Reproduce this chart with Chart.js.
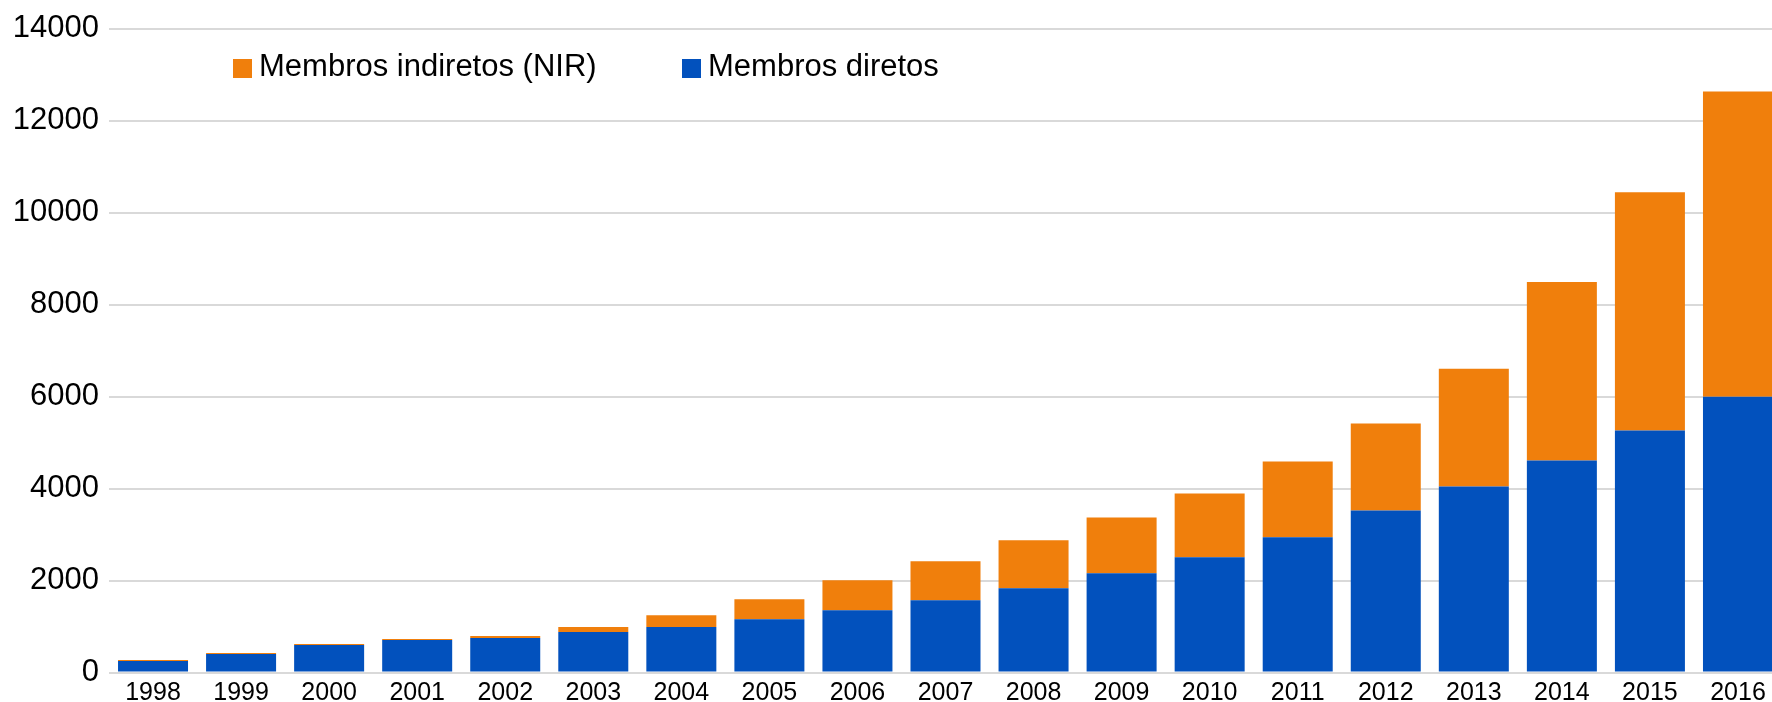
<!DOCTYPE html>
<html>
<head>
<meta charset="utf-8">
<script src="https://cdn.jsdelivr.net/npm/chart.js@4"></script>
<style>
  body { margin: 0; overflow: hidden; background: #fff; font-family: "Liberation Sans", Arial, sans-serif; }
  #wrap { position: relative; width: 1782px; height: 702px; }
  .lg-box { position: absolute; width: 19px; height: 19px; }
  .lg-text { position: absolute; font-size: 31px; line-height: 31px; color: #000; white-space: nowrap; }
</style>
</head>
<body>
<div id="wrap">
  <canvas id="chart" width="1782" height="702"></canvas>
  <div id="legend"></div>
</div>
<script>
// Categories and values
const years = ['1998','1999','2000','2001','2002','2003','2004','2005','2006','2007',
               '2008','2009','2010','2011','2012','2013','2014','2015','2016'];
const diretos = [249, 401, 596, 705, 748, 878, 987, 1160, 1355, 1572,
                 1832, 2157, 2505, 2939, 3524, 4044, 4609, 5259, 5997];
const indiretos = [22, 22, 22, 22, 44, 109, 260, 434, 651, 846,
                   1041, 1215, 1388, 1648, 1888, 2560, 3882, 5184, 6636];
const yTicks = [0, 2000, 4000, 6000, 8000, 10000, 12000, 14000];

const blue = '#0251BD';
const orange = '#F07F0C';
const fontFamily = '"Liberation Sans", Arial, sans-serif';

const context = document.getElementById('chart').getContext('2d');

const chart = new Chart(context, {
    type: 'bar',
    data: {
        labels: years,
        datasets: [
            {
                label: 'Membros diretos',
                data: diretos,
                backgroundColor: blue,
                borderWidth: 0,
                categoryPercentage: 1,
                barPercentage: 0.795
            },
            {
                label: 'Membros indiretos (NIR)',
                data: indiretos,
                backgroundColor: orange,
                borderWidth: 0,
                categoryPercentage: 1,
                barPercentage: 0.795
            }
        ]
    },
    options: {
        responsive: false,
        animation: false,
        layout: { padding: { top: 27, right: 0, bottom: 0, left: 0 } },
        plugins: {
            legend: { display: false },
            tooltip: { enabled: false }
        },
        scales: {
            x: {
                stacked: true,
                grid: { display: false },
                border: { display: false },
                ticks: {
                    color: '#000',
                    font: { family: fontFamily, size: 25 },
                    padding: -2,
                    maxRotation: 0,
                    autoSkip: false
                },
                afterFit: (scale) => { scale.height = 29.5; }
            },
            y: {
                stacked: true,
                min: 0,
                max: 14000,
                afterBuildTicks: (scale) => { scale.ticks = yTicks.map(v => ({ value: v })); },
                grid: { color: '#d9d9d9', lineWidth: 2, drawTicks: false },
                border: { display: false },
                ticks: {
                    color: '#000',
                    font: { family: fontFamily, size: 31 },
                    padding: 10,
                    callback: (value) => String(value)
                },
                afterFit: (scale) => { scale.width = 109; }
            }
        }
    }
});

// Legend as HTML text, placed inside the plot like the original
const legendItems = [
    { text: 'Membros indiretos (NIR)', color: orange, x: 233 },
    { text: 'Membros diretos', color: blue, x: 682 }
];
const legend = document.getElementById('legend');
legendItems.forEach(item => {
    const box = document.createElement('div');
    box.className = 'lg-box';
    box.style.left = item.x + 'px';
    box.style.top = '59px';
    box.style.background = item.color;
    legend.appendChild(box);
    const label = document.createElement('div');
    label.className = 'lg-text';
    label.style.left = (item.x + 26) + 'px';
    label.style.top = '50px';
    label.textContent = item.text;
    legend.appendChild(label);
});
</script>
</body>
</html>
